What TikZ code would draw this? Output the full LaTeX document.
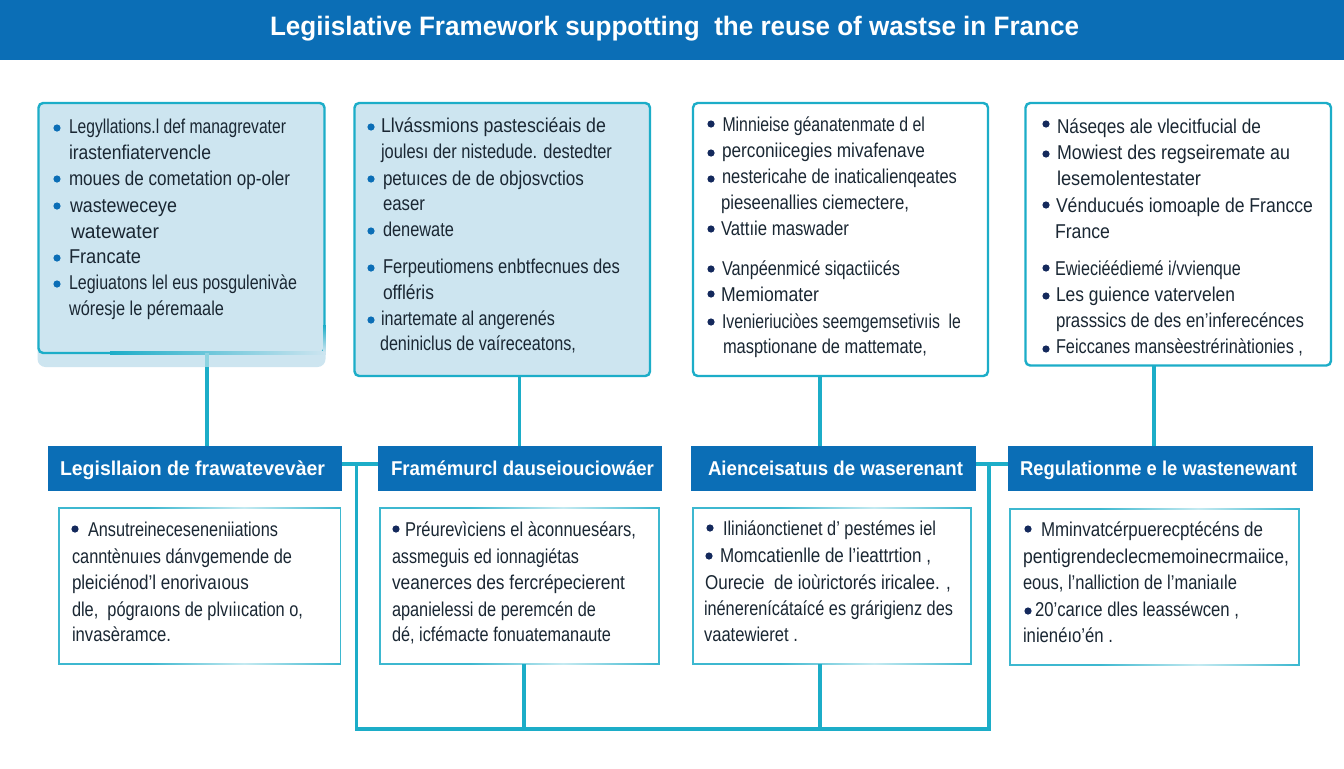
\documentclass[tikz,border=0pt]{standalone}
\usepackage{fontspec}
\usepackage{graphicx}
\setmainfont{Liberation Sans}
\definecolor{barblue}{HTML}{0B6EB6}
\definecolor{teal}{HTML}{1CADC8}
\definecolor{tealsoft}{HTML}{3DB8D0}
\definecolor{tealpale}{HTML}{C4EAF1}
\definecolor{paleblue}{HTML}{CDE5F0}
\definecolor{bandteal}{HTML}{8CD3E1}
\definecolor{inktext}{HTML}{1A2733}
\definecolor{navydot}{HTML}{14295C}
\tikzset{
  panel/.style={draw=teal,line width=1.8pt,rounded corners=3.5pt,inner sep=0pt,outer sep=0pt},
  bluepanel/.style={panel,fill=paleblue},
  whitepanel/.style={panel,fill=white},
  headbar/.style={fill=barblue,inner sep=0pt,outer sep=0pt},
  notebox/.style={draw=tealsoft,line width=1.2pt,fill=white,inner sep=0pt,outer sep=0pt},
  conn/.style={draw=teal,line width=2.3pt},
  txt/.style={anchor=base west,inner sep=0pt,outer sep=0pt,text=inktext,font=\fontsize{15}{16}\selectfont},
  headtxt/.style={anchor=base west,inner sep=0pt,outer sep=0pt,text=white,font=\fontsize{15}{16}\selectfont\bfseries},
  bdot/.style={circle,inner sep=0pt,outer sep=0pt,minimum size=5.4pt},
  bluedot/.style={bdot,fill=barblue},
  navy/.style={bdot,fill=navydot}
}
% name, style, x1, y1, x2, y2 (pixels)
\newcommand{\rbox}[6]{%
  \pgfmathsetlengthmacro{\rw}{(#5-#3)*0.75pt}%
  \pgfmathsetlengthmacro{\rh}{(#6-#4)*0.75pt}%
  \node[#2,minimum width=\rw,minimum height=\rh] (#1) at ({(#3+#5)/2},{(#4+#6)/2}) {};}
% name, style, x1, ycentre, x2, text: one line fitted to its printed width
\newcommand{\tline}[6]{%
  \pgfmathsetlengthmacro{\tw}{(#5-#3)*0.75pt}%
  \node[#2] (#1) at (#3,#4+6) {\resizebox{\tw}{\height}{#6}};}
% faded stretch of a note box edge: x1, x2, y
\newcommand{\fadeedge}[3]{%
  \shade[left color=tealsoft,right color=tealsoft,middle color=tealpale] (#1,#3-0.8) rectangle (#2,#3+0.8);}
\begin{document}
\begin{tikzpicture}[x=0.75pt,y=-0.75pt]
\useasboundingbox (0,0) rectangle (1344,768);
\fill[white] (0,0) rectangle (1344,768);
% title bar
\rbox{titlebar}{headbar}{0}{0}{1344}{60}
\tline{title}{headtxt,font=\fontsize{20}{22}\selectfont\bfseries}{270}{29}{1079}{Legiislative Framework suppotting\ \ the reuse of wastse in France}
% routing points
\coordinate (xa) at (207,400);
\coordinate (xb) at (519.5,400);
\coordinate (xc) at (820,400);
\coordinate (xd) at (1154,400);
\coordinate (busL) at (356.5,464);
\coordinate (busR) at (989,464);
\coordinate (busBL) at (356.5,729);
\coordinate (busBR) at (989,729);
\coordinate (dropB) at (524,729);
\coordinate (dropC) at (820,729);
% band under the first panel
\path[fill=paleblue,rounded corners=6pt] (37.5,335) rectangle (325.5,367);
% upper panels
\rbox{pa}{bluepanel}{38.5}{103}{324.5}{353}
\rbox{pb}{bluepanel}{354.5}{103}{650}{376}
\rbox{pc}{whitepanel}{693}{103}{988}{376}
\rbox{pd}{whitepanel}{1025.5}{103}{1331}{365.5}
% the first panel's lower edge dies away to the right
\shade[left color=teal,right color=paleblue] (110,351.8) rectangle (325.8,354.2);
\shade[top color=teal,bottom color=paleblue] (323.2,325) rectangle (325.8,352);
% header bars
\rbox{ha}{headbar}{48}{446}{342}{491}
\rbox{hb}{headbar}{378}{446}{662}{491}
\rbox{hc}{headbar}{691}{446}{976}{491}
\rbox{hd}{headbar}{1008}{446}{1313}{491}
% note boxes
\rbox{na}{notebox}{59}{508}{340.5}{664}
\rbox{nb}{notebox}{380}{508}{659}{664}
\rbox{nc}{notebox}{693}{508}{971}{664}
\rbox{nd}{notebox}{1010}{509}{1299}{665}
\fadeedge{150}{338}{508}\fadeedge{150}{338}{664}
\fadeedge{470}{656}{508}\fadeedge{470}{656}{664}
\fadeedge{780}{968}{508}\fadeedge{780}{968}{664}
\fadeedge{1100}{1296}{509}\fadeedge{1100}{1296}{665}
% connectors
\draw[conn] (pa.south -| xa) -- (ha.north -| xa);
\draw[draw=bandteal,line width=2.3pt] (pa.south -| xa) -- ++(0,14);
\draw[conn] (pb.south -| xb) -- (hb.north -| xb);
\draw[conn] (pc.south -| xc) -- (hc.north -| xc);
\draw[conn] (pd.south -| xd) -- (hd.north -| xd);
\draw[conn] (ha.east |- busL) -- (hb.west |- busL);
\draw[conn] (hc.east |- busR) -- (hd.west |- busR);
\draw[conn,line join=miter] (busL) -- (busBL) -- (busBR) -- (busR);
\draw[conn] (nb.south -| dropB) -- (dropB);
\draw[conn] (nc.south -| dropC) -- (dropC);
% panel A text
\node[bluedot] (ba1) at (57,128) {};
\node[bluedot] (ba2) at (57,179) {};
\node[bluedot] (ba3) at (57,206) {};
\node[bluedot] (ba4) at (57,258) {};
\node[bluedot] (ba5) at (57,284) {};
\tline{ta1}{txt}{69}{127}{286}{Legyllations.l def managrevater}
\tline{ta2}{txt}{69}{153}{211}{irastenfiatervencle}
\tline{ta3}{txt}{69}{179}{290}{moues de cometation op-oler}
\tline{ta4}{txt}{70}{206}{177}{wasteweceye}
\tline{ta5}{txt}{71}{232}{159}{watewater}
\tline{ta6}{txt}{69}{257}{141}{Francate}
\tline{ta7}{txt}{69}{283}{297}{Legiuatons lel eus posgulenivàe}
\tline{ta8}{txt}{69}{309}{224}{wóresje le péremaale}
% panel B text
\node[bluedot] (bb1) at (371,127) {};
\node[bluedot] (bb2) at (371,179) {};
\node[bluedot] (bb3) at (371,231) {};
\node[bluedot] (bb4) at (371,268) {};
\node[bluedot] (bb5) at (371,320) {};
\tline{tb1}{txt}{381}{126}{606}{Llvássmions pastesciéais de}
\tline{tb2}{txt}{381}{152}{612}{joulesı der nistedude. destedter}
\tline{tb3}{txt}{383}{179}{584}{petuıces de de objosvctios}
\tline{tb4}{txt}{383}{204}{425}{easer}
\tline{tb5}{txt}{383}{230}{454}{denewate}
\tline{tb6}{txt}{383}{267}{620}{Ferpeutiomens enbtfecnues des}
\tline{tb7}{txt}{383}{293}{434}{offléris}
\tline{tb8}{txt}{381}{319}{555}{inartemate al angerenés}
\tline{tb9}{txt}{380}{344}{576}{deniniclus de vaíreceatons,}
% panel C text
\node[navy] (bc1) at (711,124) {};
\node[navy] (bc2) at (711,153) {};
\node[navy] (bc3) at (711,179) {};
\node[navy] (bc4) at (711,229) {};
\node[navy] (bc5) at (711,269) {};
\node[navy] (bc6) at (711,294) {};
\node[navy] (bc7) at (711,322) {};
\tline{tc1}{txt}{722.5}{125}{925}{Minnieise géanatenmate d el}
\tline{tc2}{txt}{722}{151}{925}{perconiicegies mivafenave}
\tline{tc3}{txt}{722}{177}{957}{nestericahe de inaticalienqeates}
\tline{tc4}{txt}{721}{203}{909}{pieseenallies ciemectere,}
\tline{tc5}{txt}{721}{229}{849}{Vattıie maswader}
\tline{tc6}{txt}{722}{269}{900}{Vanpéenmicé siqactiicés}
\tline{tc7}{txt}{721}{295}{819}{Memiomater}
\tline{tc8}{txt}{722}{322}{961}{Ivenieriuciòes seemgemsetivıis\ \ le}
\tline{tc9}{txt}{723}{347}{927}{masptionane de mattemate,}
% panel D text
\node[navy] (bd1) at (1046,124) {};
\node[navy] (bd2) at (1046,154) {};
\node[navy] (bd3) at (1046,205) {};
\node[navy] (bd4) at (1046,268) {};
\node[navy] (bd5) at (1046,296) {};
\node[navy] (bd6) at (1046,349) {};
\tline{td1}{txt}{1057}{127}{1261}{Náseqes ale vlecitfucial de}
\tline{td2}{txt}{1057}{153}{1290}{Mowiest des regseiremate au}
\tline{td3}{txt}{1057}{179}{1201}{lesemolentestater}
\tline{td4}{txt}{1056}{206}{1313}{Vénducués iomoaple de Francce}
\tline{td5}{txt}{1055}{232}{1110}{France}
\tline{td6}{txt}{1055}{269}{1241}{Ewieciéédiemé i/vvienque}
\tline{td7}{txt}{1056}{295}{1235}{Les guience vatervelen}
\tline{td8}{txt}{1056}{321}{1304}{prasssics de des en'inferecénces}
\tline{td9}{txt}{1056}{347}{1303}{Feiccanes mansèestrérinàtionies ,}
% header text
\tline{hta}{headtxt}{60}{469}{325}{Legisllaion de frawatevevàer}
\tline{htb}{headtxt}{391}{469}{654}{Framémurcl dauseiouciowáer}
\tline{htc}{headtxt}{708}{469}{963}{Aienceisatuıs de waserenant}
\tline{htd}{headtxt}{1020}{469}{1297}{Regulationme e le wastenewant}
% note A
\node[navy] (bna) at (75,529) {};
\tline{na1}{txt}{88}{530}{278}{Ansutreineceseneniiations}
\tline{na2}{txt}{72}{557}{292}{canntènuıes dánvgemende de}
\tline{na3}{txt}{72}{583}{249}{pleiciénod'l enorivaıous}
\tline{na4}{txt}{72}{610}{303}{dle,\ \ pógraıons de plvıiıcation o,}
\tline{na5}{txt}{72}{635}{171}{invasèramce.}
% note B
\node[navy] (bnb) at (396,529) {};
\tline{nb1}{txt}{405}{530}{636}{Préurevìciens el àconnueséars,}
\tline{nb2}{txt}{392}{557}{579}{assmeguis ed ionnagiétas}
\tline{nb3}{txt}{392}{583}{625}{veanerces des fercrépecierent}
\tline{nb4}{txt}{392}{610}{596}{apanielessi de peremcén de}
\tline{nb5}{txt}{392}{635}{611}{dé, icfémacte fonuatemanaute}
% note C
\node[navy] (bnc1) at (710,528) {};
\node[navy] (bnc2) at (709,556) {};
\tline{nc1}{txt}{723}{529}{936}{Iliniáonctienet d' pestémes iel}
\tline{nc2}{txt}{720}{556}{931}{Momcatienlle de l'ieattrtion ,}
\tline{nc3}{txt}{705}{583}{951}{Ourecie\ \ de ioùrictorés iricalee. ,}
\tline{nc4}{txt}{704}{609}{953}{inénerenícátaícé es grárigienz des}
\tline{nc5}{txt}{704}{635}{798}{vaatewieret .}
% note D
\node[navy] (bnd1) at (1028,529) {};
\node[navy] (bnd2) at (1028,611) {};
\tline{nd1}{txt}{1041}{530}{1263}{Mminvatcérpuerecptécéns de}
\tline{nd2}{txt}{1023}{557}{1289}{pentigrendeclecmemoinecrmaiice,}
\tline{nd3}{txt}{1023}{583}{1237}{eous, l'nalliction de l'maniaıle}
\tline{nd4}{txt}{1035}{610}{1239}{20'carıce dles leasséwcen ,}
\tline{nd5}{txt}{1023}{636}{1113}{inienéıo'én .}
\end{tikzpicture}
\end{document}
